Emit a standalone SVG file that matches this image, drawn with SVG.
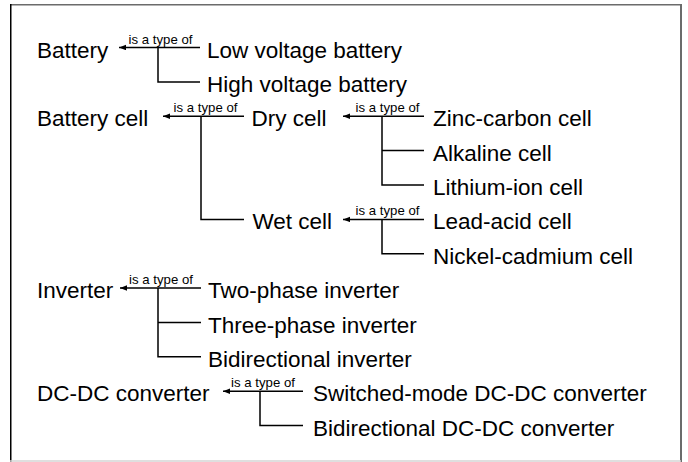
<svg xmlns="http://www.w3.org/2000/svg" width="688" height="462" viewBox="0 0 688 462">
<style>
.n{font-family:"Liberation Sans",Arial,sans-serif;font-size:22.5px;fill:#000}
.l{font-family:"Liberation Sans",Arial,sans-serif;font-size:13.2px;fill:#000;text-anchor:middle}
.c{stroke:#000;stroke-width:1.5;fill:none}
</style>
<defs>
<marker id="ah" markerUnits="userSpaceOnUse" markerWidth="8" markerHeight="6" refX="7" refY="2.75" orient="auto">
<path d="M0,0 L7,2.75 L0,5.5 z" fill="#000"/>
</marker>
</defs>
<rect width="688" height="462" fill="#fff"/>
<g id="frame">
<line x1="10" y1="4.75" x2="681" y2="4.75" stroke="#6b6b6b" stroke-width="1.5"/>
<line x1="10.75" y1="4" x2="10.75" y2="462" stroke="#000" stroke-width="1.5"/>
<line x1="681" y1="4" x2="681" y2="462" stroke="#6b6b6b" stroke-width="2"/>
<line x1="10" y1="461" x2="681" y2="461" stroke="#d4d4d4" stroke-width="1.5"/>
</g>
<g id="connectors">
<path class="c" d="M200,47.5 H119" marker-end="url(#ah)"/>
<path class="c" d="M158,47.5 V81.9 H200"/>
<text class="l" x="160.5" y="43.5">is a type of</text>
<path class="c" d="M244,116.2 H163" marker-end="url(#ah)"/>
<path class="c" d="M201,116.2 V219.4 H244"/>
<text class="l" x="205.5" y="112.2">is a type of</text>
<path class="c" d="M424,116.2 H343" marker-end="url(#ah)"/>
<path class="c" d="M382,116.2 V185 H424 M382,150.6 H424"/>
<text class="l" x="387.5" y="112.2">is a type of</text>
<path class="c" d="M424,219.4 H343" marker-end="url(#ah)"/>
<path class="c" d="M382,219.4 V253.7 H424"/>
<text class="l" x="387.5" y="215.4">is a type of</text>
<path class="c" d="M201,288.1 H120" marker-end="url(#ah)"/>
<path class="c" d="M158,288.1 V356.8 H201 M158,322.5 H201"/>
<text class="l" x="161" y="284.1">is a type of</text>
<path class="c" d="M303,391.2 H223" marker-end="url(#ah)"/>
<path class="c" d="M260,391.2 V425.6 H303"/>
<text class="l" x="263" y="387.2">is a type of</text>
</g>
<g id="battery"><text class="n" x="37" y="57.5">Battery</text></g>
<g id="low-voltage-battery"><text class="n" x="207" y="57.5">Low voltage battery</text></g>
<g id="high-voltage-battery"><text class="n" x="207" y="91.9">High voltage battery</text></g>
<g id="battery-cell"><text class="n" x="37" y="126.2">Battery cell</text></g>
<g id="dry-cell"><text class="n" x="251.5" y="126.2">Dry cell</text></g>
<g id="zinc-carbon-cell"><text class="n" x="433" y="126.2">Zinc-carbon cell</text></g>
<g id="alkaline-cell"><text class="n" x="433" y="160.6">Alkaline cell</text></g>
<g id="lithium-ion-cell"><text class="n" x="433" y="195">Lithium-ion cell</text></g>
<g id="wet-cell"><text class="n" x="252.5" y="229.4">Wet cell</text></g>
<g id="lead-acid-cell"><text class="n" x="433" y="229.4">Lead-acid cell</text></g>
<g id="nickel-cadmium-cell"><text class="n" x="433" y="263.7">Nickel-cadmium cell</text></g>
<g id="inverter"><text class="n" x="37" y="298.1">Inverter</text></g>
<g id="two-phase-inverter"><text class="n" x="208" y="298.1">Two-phase inverter</text></g>
<g id="three-phase-inverter"><text class="n" x="208" y="332.5">Three-phase inverter</text></g>
<g id="bidirectional-inverter"><text class="n" x="208" y="366.8">Bidirectional inverter</text></g>
<g id="dc-dc-converter"><text class="n" x="37" y="401.2">DC-DC converter</text></g>
<g id="switched-mode-dc-dc-converter"><text class="n" x="313" y="401.2">Switched-mode DC-DC converter</text></g>
<g id="bidirectional-dc-dc-converter"><text class="n" x="313" y="435.6">Bidirectional DC-DC converter</text></g>
</svg>
